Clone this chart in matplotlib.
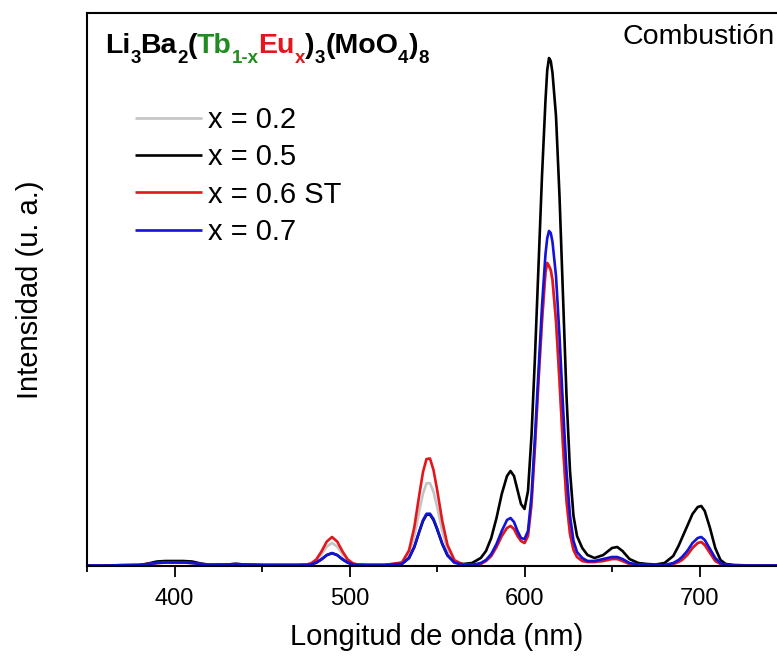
import matplotlib
matplotlib.use("Agg")
import matplotlib.pyplot as plt
from matplotlib.ticker import MultipleLocator

plt.rcParams["font.family"] = ["Liberation Sans", "DejaVu Sans"]

# ── DATA (arbitrary units) ───────────────────────────────────────────────────
wavelength = [350, 360, 370, 380, 385, 390, 395, 400, 405, 410, 415, 420, 430, 435, 440, 450, 460, 470,
              475, 478, 481, 484, 487, 490, 493, 496, 499, 502, 505,
              510, 520,
              530, 534, 537, 540, 542, 544, 546, 548, 550, 553, 556, 560, 565,
              570, 575, 578, 581, 584, 587, 590, 592, 594, 596, 598, 600,
              602, 604, 606, 608, 610, 612, 613, 614, 615, 616, 618, 620, 622, 624, 626, 628, 630,
              633, 636, 640, 645, 650, 653, 656, 660, 665, 670, 675,
              680, 685, 688, 690, 693, 696, 699, 701, 703, 706, 709, 712, 715, 720,
              730, 740, 750]

x02 = [0.5, 0.5, 0.8, 1, 2, 3, 3.5, 3.5, 3.5, 3, 2, 1.2, 1.5, 2, 1.5, 1, 1, 1,
       1.2, 2.2, 5.4, 11.7, 19.4, 23, 19.4, 11.7, 5.4, 2.2, 1.2,
       1, 1,
       3, 12.2, 29.8, 56, 72.5, 82.7, 82.8, 74.2, 59.7, 35.1, 16.4, 4.7, 1.3,
       1, 2, 5, 10, 19, 30, 38, 40, 37, 30, 25, 23,
       30, 62, 120, 185, 245, 294, 303, 300, 296, 286, 245, 185, 120, 65, 32, 16, 9,
       5, 4, 4, 5, 7, 7, 5, 2, 1, 1, 1,
       0.5, 2, 4, 6, 11, 18, 23, 24, 21, 13, 5, 2, 1, 0.5,
       0.5, 0.5, 0.5]

x05 = [0.5, 0.5, 0.8, 1, 2.5, 4.5, 5, 5, 5, 4.5, 2.5, 1.2, 1.5, 2, 1.5, 1, 1, 1,
       1.1, 1.6, 3.3, 6.6, 10.8, 12.8, 10.8, 6.6, 3.3, 1.6, 1.1,
       1, 1,
       2.2, 7.9, 18.7, 34.8, 45, 51.2, 51.3, 46, 37, 22, 10.5, 3.5, 2,
       3, 8, 15, 28, 48, 72, 90, 95, 90, 76, 62, 57,
       75, 130, 210, 300, 390, 466, 496, 508, 505, 493, 450, 370, 270, 170, 95, 50, 30,
       18, 11, 8, 11, 18, 19, 15, 7, 3, 2, 1.5,
       3, 10, 20, 28, 40, 52, 59, 60, 55, 38, 18, 6, 2, 1,
       0.5, 0.5, 0.5]

x06_st = [0.5, 0.5, 0.8, 1, 2, 3, 3.5, 3.5, 3.5, 3, 2, 1.2, 1.5, 2, 1.5, 1, 1, 1,
          1.3, 2.6, 6.5, 14.6, 24.4, 29, 24.4, 14.6, 6.5, 2.6, 1.3,
          1, 1,
          3.6, 15.6, 38.5, 72.5, 94, 107, 107.5, 96, 77, 45, 21, 5.8, 1.4,
          1, 2, 5, 10, 19, 30, 38, 40, 37, 30, 25, 23,
          30, 62, 120, 185, 245, 294, 303, 300, 296, 286, 245, 185, 120, 65, 32, 16, 9,
          5, 4, 4, 5, 7, 7, 5, 2, 1, 1, 1,
          0.5, 2, 4, 6, 11, 18, 23, 24, 21, 13, 5, 2, 1, 0.5,
          0.5, 0.5, 0.5]

x07 = [0.5, 0.5, 0.8, 1, 2, 3, 3.5, 3.5, 3.5, 3, 2, 1.2, 1.5, 2, 1.5, 1, 1, 1,
       1.1, 1.7, 3.4, 6.8, 11, 13, 11, 6.8, 3.4, 1.7, 1.1,
       1, 1,
       2.2, 8, 19, 35.4, 45.8, 52.2, 52.3, 46.9, 37.8, 22.4, 10.7, 3.3, 1.2,
       1, 3, 6, 12, 22, 35, 46, 48, 44, 35, 28, 27,
       35, 70, 130, 195, 260, 312, 328, 335, 333, 324, 290, 230, 160, 95, 50, 25, 14,
       8, 5, 5, 7, 9, 9, 7, 3, 1.5, 1, 1,
       1, 3, 6, 9, 15, 23, 28, 29, 26, 17, 8, 3, 1, 0.5,
       0.5, 0.5, 0.5]

series = [x02, x05, x06_st, x07]
labels = ["x = 0.2", "x = 0.5", "x = 0.6 ST", "x = 0.7"]
colors = ["#C4C4C4", "#000000", "#E3161C", "#1212D8"]

# ── FIGURE ────────────────────────────────────────────────────────────────────
W, H = 777, 658
fig = plt.figure(figsize=(W / 100, H / 100), dpi=100, facecolor="white")
# axes runs a little past the right edge, as in the cropped original
ax = fig.add_axes([87 / W, 1 - 566 / H, 700 / W, 553 / H])

for vals, col, lab in zip(series, colors, labels):
    ax.plot(wavelength, vals, color=col, lw=1.9, label=lab,
            solid_joinstyle="round", solid_capstyle="round")

ax.set_xlim(350, 750)
ax.set_ylim(0, 553)
ax.set_yticks([])
ax.xaxis.set_major_locator(MultipleLocator(100))
ax.xaxis.set_minor_locator(MultipleLocator(50))
ax.tick_params(axis="x", which="major", direction="out", length=8, width=1.3,
               labelsize=17, pad=8, color="black")
ax.tick_params(axis="x", which="minor", direction="out", length=4, width=1.3)
for sp in ax.spines.values():
    sp.set_linewidth(1.5)

fig.text(437 / W, 1 - 637 / H, "Longitud de onda (nm)", fontsize=21,
         ha="center", va="center")
fig.text(30 / W, 1 - 290 / H, "Intensidad (u. a.)", fontsize=21,
         ha="center", va="center", rotation=90)

leg = ax.legend(loc="upper left", bbox_to_anchor=((135 - 87) / 700, (566 - 106) / 553),
                frameon=False, fontsize=21, handlelength=2.3, handletextpad=0.2,
                labelspacing=0.32, borderpad=0, borderaxespad=0)
for line in leg.get_lines():
    line.set_solid_capstyle("butt")

fig.text(622 / W, 1 - 44 / H, "Combustión", fontsize=20.5, va="baseline", ha="left")

# formula with coloured, subscripted parts
formula = [("Li", "black", False), ("3", "black", True), ("Ba", "black", False),
           ("2", "black", True), ("(", "black", False), ("Tb", "#1E8C1E", False),
           ("1-x", "#1E8C1E", True), ("Eu", "#E3161C", False), ("x", "#E3161C", True),
           (")", "black", False), ("3", "black", True), ("(MoO", "black", False),
           ("4", "black", True), (")", "black", False), ("8", "black", True)]

renderer = fig.canvas.get_renderer()
xpos = 105
for s, col, sub in formula:
    ypos = 53 + (10 if sub else 0)
    t = fig.text(xpos / W, 1 - ypos / H, s, color=col, fontweight="bold",
                 fontsize=13.5 if sub else 20.5, va="baseline", ha="left")
    xpos = t.get_window_extent(renderer).x1

fig.savefig("out.png", dpi=100, facecolor="white")
